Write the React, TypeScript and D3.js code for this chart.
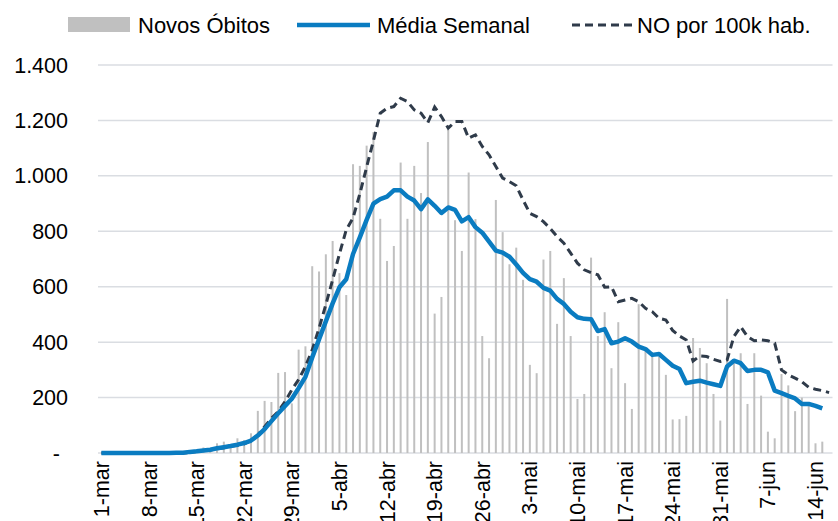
import React from 'react';
import * as d3 from 'd3';

// Novos óbitos diários, 1-mar .. 15-jun
const novosObitos = [
  0, 0, 0, 0, 0, 0, 0, 0, 0, 0, 0, 2, 3, 10, 13, 20, 16, 35, 41, 29,
  53, 47, 71, 152, 188, 184, 289, 292, 179, 373, 385, 674, 655, 717, 765, 649, 570, 1042, 1036, 1109,
  1158, 845, 693, 747, 1048, 845, 1036, 938, 1122, 503, 563, 1166, 840, 729, 1012, 844, 422, 342, 913, 797,
  681, 741, 625, 318, 288, 698, 729, 466, 631, 422, 195, 213, 705, 422, 508, 306, 472, 252, 159, 537,
  378, 354, 348, 282, 121, 122, 134, 415, 379, 324, 213, 117, 556, 330, 360, 177, 360, 207, 77, 53,
  285, 244, 151, 200, 170, 35, 41,
];

// Média semanal
const mediaSemanal = [
  0, 0, 0, 0, 0, 0, 0, 0, 0, 0, 0, 1, 1, 4, 6, 9, 12, 17, 21, 25,
  30, 36, 45, 63, 86, 115, 143, 170, 196, 234, 275, 345, 410, 475, 540, 598, 627, 718, 778, 841,
  900, 916, 925, 948, 948, 925, 911, 880, 915, 892, 866, 886, 877, 836, 851, 815, 795, 763, 730, 723,
  708, 680, 650, 627, 618, 596, 586, 556, 538, 510, 490, 484, 483, 440, 447, 396, 402, 414, 402, 384,
  375, 354, 357, 336, 315, 303, 252, 257, 261, 254, 248, 242, 312, 333, 324, 296, 300, 300, 291, 225,
  216, 206, 197, 177, 177, 170, 161,
];

// NO por 100k hab. (eixo secundário, lido na escala do gráfico), 1-mar .. 16-jun
const noPor100k = [
  0, 0, 0, 0, 0, 0, 0, 0, 0, 0, 0, 0, 0, 2, 5, 8, 11, 15, 19, 24,
  28, 33, 45, 65, 95, 125, 150, 185, 228, 265, 312, 372, 450, 535, 625, 718, 805, 848, 935, 1032,
  1127, 1226, 1244, 1250, 1280, 1268, 1238, 1226, 1192, 1248, 1214, 1172, 1196, 1196, 1136, 1148, 1106, 1076, 1034, 992,
  979, 964, 913, 865, 853, 835, 810, 781, 757, 721, 685, 661, 651, 643, 598, 600, 546, 552, 558, 546,
  522, 510, 486, 480, 442, 422, 408, 332, 350, 348, 338, 330, 336, 420, 456, 420, 405, 408, 405, 396,
  300, 282, 270, 257, 237, 230, 225, 218,
];

const xTickLabels = [
  '1-mar', '8-mar', '15-mar', '22-mar', '29-mar', '5-abr', '12-abr', '19-abr',
  '26-abr', '3-mai', '10-mai', '17-mai', '24-mai', '31-mai', '7-jun', '14-jun',
];
const yTicks = [0, 200, 400, 600, 800, 1000, 1200, 1400];

const W = 838;
const H = 521;
const FONT = '"Liberation Sans", Arial, sans-serif';

const fmtY = (v: number) => (v === 0 ? '-' : d3.format(',')(v).replace(/,/g, '.'));

export default function App() {
  const days = d3.range(noPor100k.length);

  const x = d3.scaleBand<number>().domain(days).range([98, 832.5]).padding(0);
  const cx = (i: number) => (x(i) as number) + x.bandwidth() / 2;
  const y = d3.scaleLinear().domain([0, 1400]).range([453, 65]);

  const line = d3
    .line<number>()
    .x((_, i) => cx(i))
    .y((d) => y(d));

  return (
    <svg
      width={W}
      height={H}
      style={{ position: 'absolute', left: 0, top: 0, background: '#fff' }}
      fontFamily={FONT}
    >
      {/* grid */}
      {yTicks.map((t) => (
        <line key={t} x1={98} x2={832.5} y1={y(t)} y2={y(t)} stroke="#dadde2" strokeWidth={1.5} />
      ))}

      {/* y labels */}
      {yTicks.map((t) => (
        <text
          key={'l' + t}
          x={t === 0 ? 60 : 68}
          y={y(t)}
          dy="0.35em"
          textAnchor="end"
          fontSize={21.5}
          fill="#000"
        >
          {fmtY(t)}
        </text>
      ))}

      {/* bars */}
      {novosObitos.map((v, i) => (
        <rect key={'b' + i} x={cx(i) - 1} y={y(v)} width={2} height={y(0) - y(v)} fill="#c0c0c0" />
      ))}

      {/* lines */}
      <path d={line(noPor100k) ?? ''} fill="none" stroke="#2f3b4a" strokeWidth={3} strokeDasharray="8,5" />
      <path d={line(mediaSemanal) ?? ''} fill="none" stroke="#0a7cc1" strokeWidth={4.5} strokeLinejoin="round" />

      {/* x labels */}
      {xTickLabels.map((lab, k) => (
        <text
          key={lab}
          transform={`translate(${cx(k * 7)},461) rotate(-90)`}
          dy="0.35em"
          textAnchor="end"
          fontSize={21.5}
          fill="#000"
        >
          {lab}
        </text>
      ))}

      {/* legend */}
      <rect x={68} y={17} width={62} height={15} fill="#c0c0c0" />
      <text x={138} y={25} dy="0.35em" fontSize={22} fill="#000">Novos Óbitos</text>
      <line x1={297} x2={370} y1={25} y2={25} stroke="#0a7cc1" strokeWidth={4.5} />
      <text x={377} y={25} dy="0.35em" fontSize={22} fill="#000">Média Semanal</text>
      <line x1={572} x2={632} y1={25} y2={25} stroke="#2f3b4a" strokeWidth={3} strokeDasharray="8,5" />
      <text x={637} y={25} dy="0.35em" fontSize={22} fill="#000">NO por 100k hab.</text>
    </svg>
  );
}
